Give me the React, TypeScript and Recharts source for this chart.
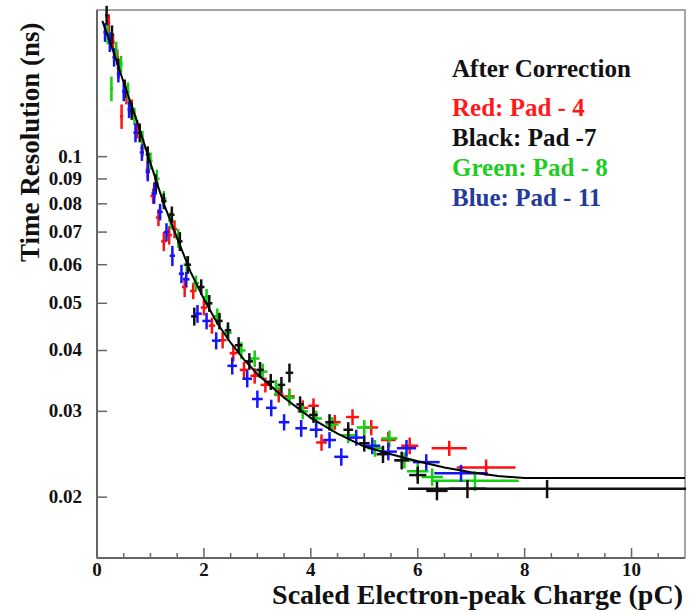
import React from "react";
import {
  ScatterChart,
  Scatter,
  XAxis,
  YAxis,
  ErrorBar,
  ReferenceArea,
} from "recharts";

// [charge, resolution, xErr, yErr]
type Pt = [number, number, number, number];

const redPad4: Pt[] = [
  [0.22, 0.188, 0.03, 0.008], [0.3, 0.172, 0.03, 0.007], [0.38, 0.16, 0.03, 0.006],
  [0.46, 0.121, 0.03, 0.007], [0.55, 0.134, 0.03, 0.006], [0.65, 0.126, 0.03, 0.005],
  [0.75, 0.114, 0.04, 0.005], [0.85, 0.104, 0.04, 0.004], [0.95, 0.094, 0.04, 0.004],
  [1.05, 0.083, 0.05, 0.003], [1.15, 0.075, 0.05, 0.003], [1.25, 0.067, 0.05, 0.003],
  [1.35, 0.069, 0.05, 0.003], [1.45, 0.071, 0.05, 0.003], [1.64, 0.054, 0.05, 0.0025],
  [1.8, 0.053, 0.06, 0.002], [2.0, 0.049, 0.06, 0.0018], [2.15, 0.045, 0.06, 0.0017],
  [2.35, 0.042, 0.07, 0.0016], [2.55, 0.0395, 0.07, 0.0015], [2.75, 0.0365, 0.08, 0.0014],
  [2.95, 0.0355, 0.08, 0.0013], [3.15, 0.034, 0.09, 0.0012], [3.4, 0.0325, 0.09, 0.0012],
  [3.6, 0.0322, 0.1, 0.0012], [3.85, 0.0305, 0.1, 0.0011], [4.05, 0.0308, 0.1, 0.0011],
  [4.2, 0.0259, 0.1, 0.001], [4.45, 0.0285, 0.11, 0.001], [4.78, 0.0292, 0.12, 0.0011],
  [5.13, 0.0278, 0.13, 0.001], [5.45, 0.0262, 0.14, 0.001], [5.85, 0.0255, 0.16, 0.001],
  [6.59, 0.0252, 0.33, 0.0009], [7.28, 0.023, 0.55, 0.0009],
];

const blackPad7: Pt[] = [
  [0.18, 0.195, 0.03, 0.009], [0.28, 0.178, 0.03, 0.008], [0.4, 0.152, 0.03, 0.007],
  [0.52, 0.138, 0.03, 0.006], [0.65, 0.124, 0.04, 0.005], [0.8, 0.112, 0.04, 0.005],
  [0.95, 0.101, 0.04, 0.004], [1.1, 0.088, 0.05, 0.004], [1.25, 0.081, 0.05, 0.003],
  [1.4, 0.076, 0.05, 0.003], [1.55, 0.067, 0.05, 0.003], [1.7, 0.06, 0.06, 0.0025],
  [1.82, 0.047, 0.06, 0.002], [1.95, 0.054, 0.06, 0.002], [2.1, 0.05, 0.06, 0.002],
  [2.29, 0.046, 0.06, 0.0018], [2.45, 0.044, 0.06, 0.0017], [2.65, 0.041, 0.07, 0.0016],
  [2.85, 0.038, 0.07, 0.0015], [3.05, 0.0365, 0.07, 0.0014], [3.25, 0.0345, 0.07, 0.0013],
  [3.45, 0.034, 0.07, 0.0013], [3.6, 0.036, 0.07, 0.0016], [3.8, 0.031, 0.07, 0.0012],
  [4.05, 0.0295, 0.08, 0.0011], [4.35, 0.0285, 0.08, 0.0011], [4.7, 0.0275, 0.09, 0.001],
  [5.0, 0.0258, 0.1, 0.001], [5.35, 0.0245, 0.12, 0.001], [5.7, 0.0238, 0.14, 0.001],
  [6.0, 0.0222, 0.16, 0.0009], [6.36, 0.0206, 0.2, 0.0009], [6.93, 0.0208, 0.35, 0.0009],
  [8.42, 0.0208, 2.6, 0.0009],
];

const greenPad8: Pt[] = [
  [0.2, 0.178, 0.03, 0.008], [0.27, 0.138, 0.03, 0.008], [0.36, 0.165, 0.03, 0.007],
  [0.45, 0.155, 0.03, 0.006], [0.58, 0.136, 0.03, 0.006], [0.7, 0.121, 0.04, 0.005],
  [0.85, 0.108, 0.04, 0.005], [1.0, 0.098, 0.04, 0.004], [1.12, 0.09, 0.05, 0.004],
  [1.25, 0.082, 0.05, 0.003], [1.38, 0.074, 0.05, 0.003], [1.52, 0.068, 0.05, 0.003],
  [1.68, 0.06, 0.06, 0.0025], [1.85, 0.055, 0.06, 0.002], [2.05, 0.0515, 0.07, 0.002],
  [2.25, 0.047, 0.07, 0.0018], [2.45, 0.0435, 0.07, 0.0017], [2.7, 0.04, 0.08, 0.0016],
  [2.95, 0.0385, 0.09, 0.0015], [3.1, 0.0362, 0.09, 0.0014], [3.35, 0.0335, 0.1, 0.0013],
  [3.6, 0.032, 0.1, 0.0012], [3.85, 0.03, 0.1, 0.0011], [4.1, 0.029, 0.11, 0.0011],
  [4.4, 0.0282, 0.12, 0.001], [4.7, 0.0268, 0.13, 0.001], [5.0, 0.0278, 0.14, 0.001],
  [5.2, 0.0252, 0.14, 0.001], [5.47, 0.0264, 0.15, 0.001], [5.75, 0.0238, 0.17, 0.0009],
  [6.0, 0.0226, 0.2, 0.0009], [6.27, 0.022, 0.2, 0.0009], [7.07, 0.0216, 0.82, 0.001],
];

const bluePad11: Pt[] = [
  [0.15, 0.18, 0.03, 0.008], [0.24, 0.172, 0.03, 0.008], [0.32, 0.16, 0.03, 0.007],
  [0.4, 0.148, 0.03, 0.006], [0.5, 0.136, 0.03, 0.006], [0.6, 0.125, 0.03, 0.005],
  [0.72, 0.112, 0.04, 0.005], [0.84, 0.102, 0.04, 0.004], [0.95, 0.093, 0.04, 0.004],
  [1.07, 0.084, 0.05, 0.004], [1.18, 0.077, 0.05, 0.003], [1.3, 0.07, 0.05, 0.003],
  [1.41, 0.0626, 0.05, 0.003], [1.58, 0.0575, 0.05, 0.0025], [1.67, 0.056, 0.06, 0.002],
  [1.88, 0.0476, 0.08, 0.002], [2.05, 0.046, 0.08, 0.0018], [2.23, 0.0419, 0.08, 0.0017],
  [2.53, 0.0372, 0.09, 0.0015], [2.81, 0.035, 0.09, 0.0014], [3.0, 0.0318, 0.1, 0.0013],
  [3.26, 0.0305, 0.1, 0.0012], [3.5, 0.0285, 0.1, 0.0011], [3.82, 0.0277, 0.11, 0.0011],
  [4.1, 0.0275, 0.12, 0.001], [4.35, 0.0262, 0.12, 0.001], [4.57, 0.0242, 0.13, 0.001],
  [4.85, 0.0265, 0.14, 0.001], [5.15, 0.0255, 0.15, 0.001], [5.45, 0.0248, 0.16, 0.001],
  [5.79, 0.0252, 0.18, 0.001], [6.16, 0.0236, 0.25, 0.0009], [6.81, 0.0224, 0.5, 0.0009],
];

// fitted curve
const fitX = [0.1, 0.3, 0.5, 0.75, 1, 1.25, 1.5, 1.75, 2, 2.25, 2.5, 2.75, 3, 3.5, 4, 4.5, 5, 5.5, 6, 6.5, 7, 7.5, 8, 11];
const fitY = [0.19, 0.165, 0.142, 0.118, 0.097, 0.08, 0.068, 0.058, 0.051, 0.0455, 0.0415, 0.0383, 0.0358, 0.032, 0.0291, 0.027, 0.0254, 0.0245, 0.0237, 0.023, 0.0225, 0.0221, 0.0219, 0.0219];

const xTicks = [0, 0.5, 1, 1.5, 2, 2.5, 3, 3.5, 4, 4.5, 5, 5.5, 6, 6.5, 7, 7.5, 8, 8.5, 9, 9.5, 10, 10.5];
const xLabels = [0, 2, 4, 6, 8, 10];
const yTicks = [0.02, 0.03, 0.04, 0.05, 0.06, 0.07, 0.08, 0.09, 0.1];

const legendLines = [
  { text: "Red: Pad - 4", color: "#ff1a1a" },
  { text: "Black: Pad -7", color: "#111111" },
  { text: "Green: Pad - 8", color: "#1fcc1f" },
  { text: "Blue: Pad - 11", color: "#253a9c" },
];

const SERIF = "'Liberation Serif', 'Times New Roman', serif";

const toRows = (pts: Pt[]) => pts.map(([x, y, ex, ey]) => ({ x, y, ex, ey }));
const fitRows = fitX.map((x, i) => ({ x, y: fitY[i] }));

const XTick = (props: any) => {
  const { x, y, payload } = props;
  const major = xLabels.includes(payload.value);
  return (
    <g>
      <line x1={x} y1={y} x2={x} y2={y - (major ? 10 : 5)} stroke="#666" strokeWidth={1.5} />
      {major && (
        <text x={x} y={y + 18} textAnchor="middle" fontFamily={SERIF} fontWeight="bold" fontSize={19} fill="#111">
          {payload.value}
        </text>
      )}
    </g>
  );
};

const YTick = (props: any) => {
  const { x, y, payload } = props;
  return (
    <g>
      <line x1={x} y1={y} x2={x + 10} y2={y} stroke="#666" strokeWidth={1.5} />
      <text x={x - 15} y={y + 6} textAnchor="end" fontFamily={SERIF} fontWeight="bold" fontSize={19} fill="#111">
        {payload.value}
      </text>
    </g>
  );
};

const noMarker = () => <g />;

const PadSeries = (pts: Pt[], color: string, name: string) => (
  <Scatter key={name} name={name} data={toRows(pts)} shape={noMarker} isAnimationActive={false}>
    <ErrorBar dataKey="ex" direction="x" width={0} stroke={color} strokeWidth={2.5} />
    <ErrorBar dataKey="ey" direction="y" width={0} stroke={color} strokeWidth={2.5} />
  </Scatter>
);

const App = () => (
  <div style={{ position: "absolute", left: 0, top: 0, width: 689, height: 612, background: "#fff" }}>
    <ScatterChart width={689} height={612} margin={{ top: 10, right: 4, left: 0, bottom: 0 }}>
      <XAxis
        type="number"
        dataKey="x"
        domain={[0, 11]}
        ticks={xTicks}
        allowDataOverflow
        height={54}
        tickSize={0}
        tickMargin={0}
        tick={<XTick />}
        axisLine={{ stroke: "#666", strokeWidth: 2 }}
        interval={0}
      />
      <YAxis
        type="number"
        dataKey="y"
        scale="log"
        domain={[0.015, 0.2]}
        ticks={yTicks}
        allowDataOverflow
        width={97}
        tickSize={0}
        tickMargin={0}
        tick={<YTick />}
        axisLine={{ stroke: "#666", strokeWidth: 2 }}
        interval={0}
      />
      <ReferenceArea x1={0} x2={11} y1={0.015} y2={0.2} fill="none" stroke="#888" strokeWidth={1.5} />
      {PadSeries(redPad4, "#ff1010", "red")}
      {PadSeries(greenPad8, "#10d010", "green")}
      {PadSeries(blackPad7, "#111111", "black")}
      {PadSeries(bluePad11, "#1414ff", "blue")}
      <Scatter
        name="fit"
        data={fitRows}
        shape={noMarker}
        line={{ stroke: "#000", strokeWidth: 2 }}
        lineType="joint"
        isAnimationActive={false}
      />
    </ScatterChart>
    <div style={{ position: "absolute", left: 452, top: 57, fontFamily: SERIF, fontWeight: "bold", fontSize: 25, lineHeight: "24px", whiteSpace: "nowrap", color: "#111" }}>
      After Correction
    </div>
    {legendLines.map((l, i) => (
      <div
        key={l.text}
        style={{ position: "absolute", left: 452, top: 96 + i * 30, fontFamily: SERIF, fontWeight: "bold", fontSize: 25, lineHeight: "24px", whiteSpace: "nowrap", color: l.color }}
      >
        {l.text}
      </div>
    ))}
    <div style={{ position: "absolute", right: 6, top: 585, fontFamily: SERIF, fontWeight: "bold", fontSize: 28, lineHeight: "20px", whiteSpace: "nowrap", color: "#111" }}>
      Scaled Electron-peak Charge (pC)
    </div>
    <div
      style={{
        position: "absolute",
        left: 16,
        top: 262,
        transformOrigin: "0 0",
        transform: "rotate(-90deg)",
        fontFamily: SERIF,
        fontWeight: "bold",
        fontSize: 27,
        lineHeight: "28px",
        whiteSpace: "nowrap",
        color: "#111",
      }}
    >
      Time Resolution (ns)
    </div>
  </div>
);

export default App;
